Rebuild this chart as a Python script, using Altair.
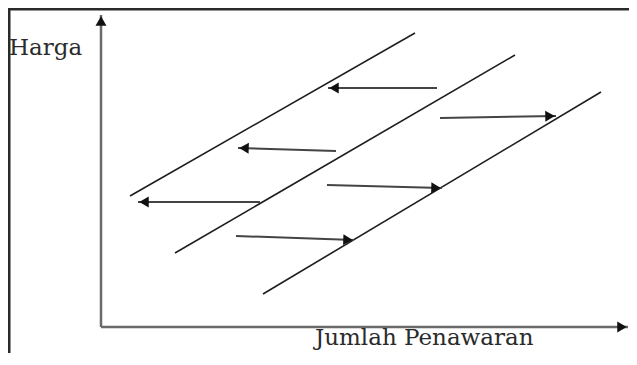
import math
import altair as alt
import pandas as pd

# ---- data (quantity q, price p; origin at the axes corner) ----
line_q0 = [29, 74, 162]
line_p0 = [131, 74, 33]
line_q1 = [314, 414, 500]
line_p1 = [294, 272, 235]

arr_q0 = [336, 339, 235, 226, 159, 135]
arr_p0 = [239, 209, 176, 142, 125, 91]
arr_q1 = [227, 455, 137, 341, 37, 253]
arr_p1 = [239, 211, 179, 139, 125, 87]

axis_q0 = [0, 0]
axis_p0 = [0, 0]
axis_q1 = [0, 527]
axis_p1 = [312, 0]

label_text = ["Harga", "Jumlah Penawaran"]
label_q = [-92, 214]
label_p = [272, -18]

W, H = 621, 345
XDOM = [-93, -93 + W]
YDOM = [319 - H, 319]
HEAD = 6


def heads(q0, p0, q1, p1):
    rows = []
    for a, b, c, d in zip(q0, p0, q1, p1):
        dx, dy = c - a, d - b
        n = math.hypot(dx, dy)
        ux, uy = dx / n, dy / n
        ang = (math.degrees(math.atan2(-dy, dx)) + 360) % 360
        rows.append({"hq": c - HEAD * ux, "hp": d - HEAD * uy, "ang": ang})
    return pd.DataFrame(rows)


lines = pd.DataFrame({"q0": line_q0, "p0": line_p0, "q1": line_q1, "p1": line_p1})
arrows = pd.DataFrame({"q0": arr_q0, "p0": arr_p0, "q1": arr_q1, "p1": arr_p1})
axes = pd.DataFrame({"q0": axis_q0, "p0": axis_p0, "q1": axis_q1, "p1": axis_p1})
ahead = heads(arr_q0, arr_p0, arr_q1, arr_p1)
xhead = heads(axis_q0, axis_p0, axis_q1, axis_p1)
labels = pd.DataFrame({"t": label_text, "q": label_q, "p": label_p})

xs = alt.Scale(domain=XDOM, nice=False, zero=False)
ys = alt.Scale(domain=YDOM, nice=False, zero=False)


def seg(df, color, width):
    return alt.Chart(df).mark_rule(color=color, strokeWidth=width).encode(
        x=alt.X("q0:Q", scale=xs, axis=None),
        y=alt.Y("p0:Q", scale=ys, axis=None),
        x2="q1:Q",
        y2="p1:Q",
    )


def head_layer(df, size):
    return alt.Chart(df).mark_point(
        shape="triangle-right", filled=True, color="#111111", opacity=1, size=size
    ).encode(
        x=alt.X("hq:Q", scale=xs, axis=None),
        y=alt.Y("hp:Q", scale=ys, axis=None),
        angle=alt.Angle("ang:Q", scale=None),
    )


frame_top = alt.Chart(pd.DataFrame({"a": [0]})).mark_rule(
    color="#2a2a2a", strokeWidth=3
).encode(x=alt.value(0), x2=alt.value(W), y=alt.value(1))
frame_left = alt.Chart(pd.DataFrame({"a": [0]})).mark_rule(
    color="#2a2a2a", strokeWidth=3
).encode(y=alt.value(0), y2=alt.value(H), x=alt.value(1))

text = alt.Chart(labels).mark_text(
    font="DejaVu Serif", fontSize=23, align="left", baseline="alphabetic", color="#2b2b2b"
).encode(
    x=alt.X("q:Q", scale=xs, axis=None),
    y=alt.Y("p:Q", scale=ys, axis=None),
    text="t:N",
)

chart = alt.layer(
    frame_top,
    frame_left,
    seg(axes, "#6a6a6a", 2.5),
    seg(lines, "#1e1e1e", 1.6),
    seg(arrows, "#444444", 2),
    head_layer(ahead, 120),
    head_layer(xhead, 120),
    text,
).properties(
    width=W, height=H, padding=0, autosize=alt.AutoSizeParams(type="none"),
    background="white",
).configure_view(stroke=None)

chart.save("out.html", embed_options={"renderer": "svg", "actions": False})
